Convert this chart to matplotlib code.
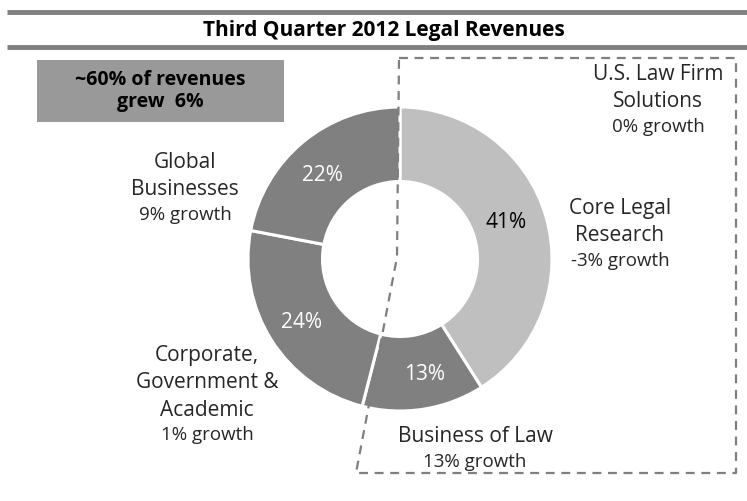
import matplotlib
matplotlib.use("Agg")
import matplotlib.pyplot as plt

plt.rcParams['font.family'] = ['Open Sans', 'DejaVu Sans']

title = "Third Quarter 2012 Legal Revenues"
segments = ["Core Legal Research", "Business of Law",
            "Corporate, Government & Academic", "Global Businesses"]
shares = [41, 13, 24, 22]
pct_labels = ["41%", "13%", "24%", "22%"]
colors = ["#bfbfbf", "#808080", "#808080", "#808080"]
pct_colors = ["black", "white", "white", "white"]

names = ["Core Legal\nResearch", "Business of Law",
         "Corporate,\nGovernment &\nAcademic", "Global\nBusinesses",
         "U.S. Law Firm\nSolutions"]
growth = ["-3% growth", "13% growth", "1% growth", "9% growth", "0% growth"]

W, H = 747, 501
fig = plt.figure(figsize=(W / 100, H / 100), dpi=100)
ax = fig.add_axes([0, 0, 1, 1])

# pixel helper: y from top of image
def py(y):
    return H - y

cx, cy, R = 400, py(259), 152
wedges, _ = ax.pie(shares, colors=colors, startangle=90, counterclock=False,
                   center=(cx, cy), radius=R,
                   wedgeprops=dict(width=R * 0.49, edgecolor="white", linewidth=2.2))

# percentage labels
pct_pos = [(506, 222), (425, 374), (302, 323), (322, 175)]
for lab, col, (x, y) in zip(pct_labels, pct_colors, pct_pos):
    ax.text(x, py(y), lab, color=col, fontsize=15, ha="center", va="center")

# category labels (name lines, then growth line)
name_pos = [(620, 222), (475, 437), (207, 383), (185, 176), (658, 88)]
growth_pos = [(620, 261), (475, 462), (207, 435), (185, 215), (658, 127)]
txt = "#262626"
for n, g, (nx, ny), (gx, gy) in zip(names, growth, name_pos, growth_pos):
    ax.text(nx, py(ny), n, fontsize=15, ha="center", va="center",
            linespacing=1.38, color=txt)
    ax.text(gx, py(gy), g, fontsize=13.5, ha="center", va="center", color=txt)

# title bars and title
for yb in (12, 47):
    ax.plot([7, W], [py(yb), py(yb)], color="#808080", lw=3.5,
            solid_capstyle="butt")
ax.text(384, py(30), title, fontsize=15, fontweight="bold",
        ha="center", va="center")

# callout box
ax.add_patch(plt.Rectangle((37, py(122)), 247, 62, color="#999999", lw=0))
ax.text(160, py(91), "~60% of revenues\ngrew  6%", fontsize=14,
        fontweight="bold", ha="center", va="center", linespacing=1.15)

# dashed outline around the U.S. Law Firm Solutions group
xs = [399, 736, 736, 356, 397, 399]
ys = [58, 58, 473, 473, 257, 58]
ax.plot(xs, [py(v) for v in ys], color="#7f7f7f", lw=1.6,
        linestyle=(0, (4, 3)))

ax.set_xlim(0, W)
ax.set_ylim(0, H)
ax.set_aspect("auto")
ax.axis("off")

fig.savefig("out.png", dpi=100)
